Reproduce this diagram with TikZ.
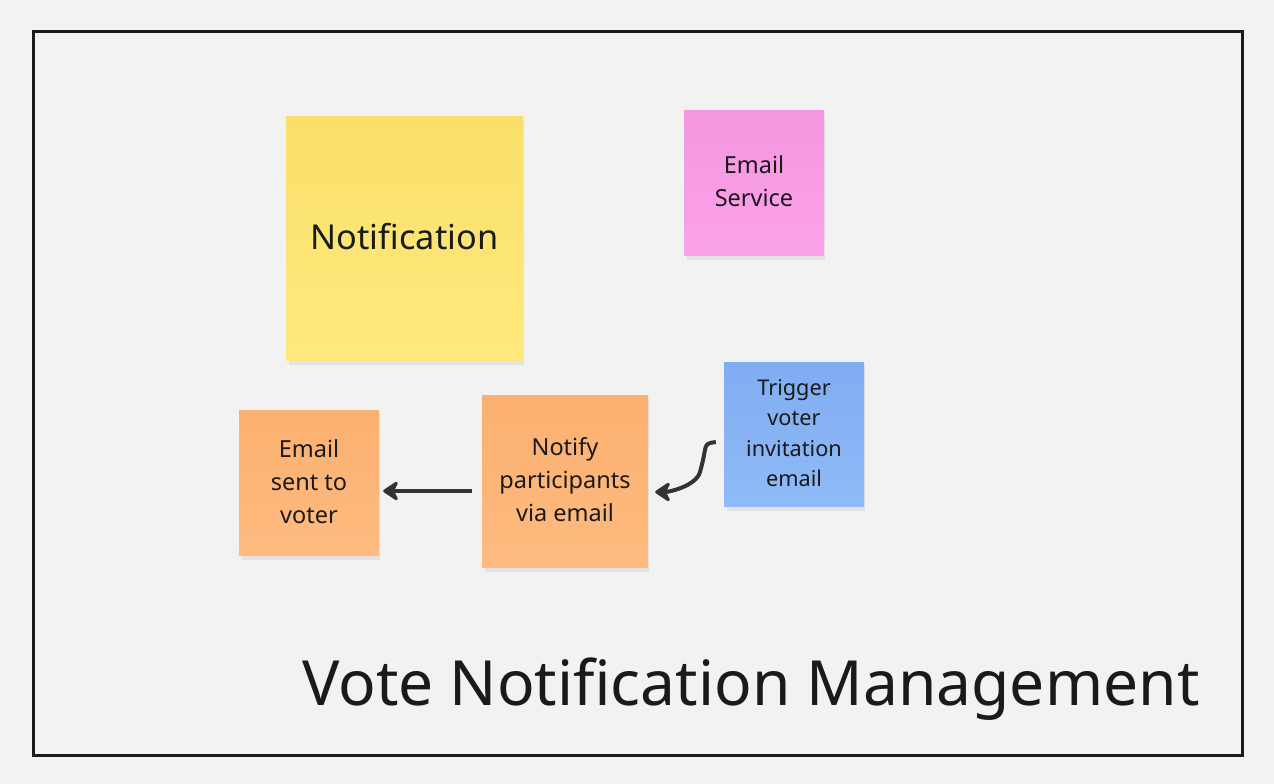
\documentclass[tikz,border=0pt]{standalone}
\usepackage{fontspec}
\setmainfont{Noto Sans}
\usetikzlibrary{arrows.meta}
\definecolor{bg}{HTML}{F2F2F2}
\definecolor{ink}{HTML}{1A1A1A}
\definecolor{arr}{HTML}{333333}
\definecolor{yelT}{HTML}{FAE06A}
\definecolor{yelB}{HTML}{FFE97D}
\definecolor{pinkT}{HTML}{F496E0}
\definecolor{pinkB}{HTML}{FBA2EA}
\definecolor{blueT}{HTML}{80ACF2}
\definecolor{blueB}{HTML}{8FBBF8}
\definecolor{orT}{HTML}{FAB070}
\definecolor{orB}{HTML}{FFBB80}
\tikzset{
  sticky/.style={inner sep=0pt, align=center, text=ink, font=\fontsize{23.5}{33}\selectfont},
  shadowbox/.style={fill=black, opacity=0.06},
  conn/.style={draw=arr, line width=4pt, -{Stealth[length=18pt,width=24pt,inset=6pt,round]}},
}
\begin{document}
\begin{tikzpicture}[x=1pt,y=-1pt]
\useasboundingbox (0,0) rectangle (1274,784);
\fill[bg] (0,0) rectangle (1274,784);
\draw[ink, line width=3pt] (33,32) rectangle (1242,755);
% shadows
\foreach \a/\b/\c/\d in {286/116/523/360, 684/110/824/255, 724/362/864/506, 482/395/648/567, 239/410/379/555}{
  \fill[shadowbox] (\a+3,\b+4) rectangle (\c+1,\d+5);
}
% stickies
\shade[top color=yelT, bottom color=yelB] (286,116) rectangle (523,360);
\shade[top color=pinkT, bottom color=pinkB] (684,110) rectangle (824,255);
\shade[top color=blueT, bottom color=blueB] (724,362) rectangle (864,506);
\shade[top color=orT, bottom color=orB] (482,395) rectangle (648,567);
\shade[top color=orT, bottom color=orB] (239,410) rectangle (379,555);
\node[minimum width=237pt, minimum height=244pt, sticky, font=\fontsize{34.3}{40}\selectfont] (notif) at (404.5,237) {Notification};
\node[minimum width=140pt, minimum height=145pt, sticky] (esvc) at (754,181.5) {Email\\Service};
\node[minimum width=140pt, minimum height=144pt, sticky, font=\fontsize{21.7}{30.5}\selectfont] (trig) at (794,433) {Trigger\\voter\\invitation\\email};
\node[minimum width=166pt, minimum height=172pt, sticky] (notify) at (565,480) {Notify\\participants\\via email};
\node[minimum width=140pt, minimum height=145pt, sticky] (sent) at (309,481.5) {Email\\sent to\\voter};
% connectors
\draw[conn] ([xshift=-10pt]notify.west |- 0,491) -- ([xshift=4pt]sent.east |- 0,491);
\draw[conn] ([xshift=-8pt]trig.west |- 0,442) .. controls +(-14,2) and +(8,-28) .. (700,472) .. controls +(-4,14) and +(14,0) .. ([xshift=7pt]notify.east |- 0,492);
\node[anchor=base west, text=ink, font=\fontsize{62.3}{72}\selectfont, inner sep=0pt] (title) at (302,705) {Vote Notification Management};
\end{tikzpicture}
\end{document}
